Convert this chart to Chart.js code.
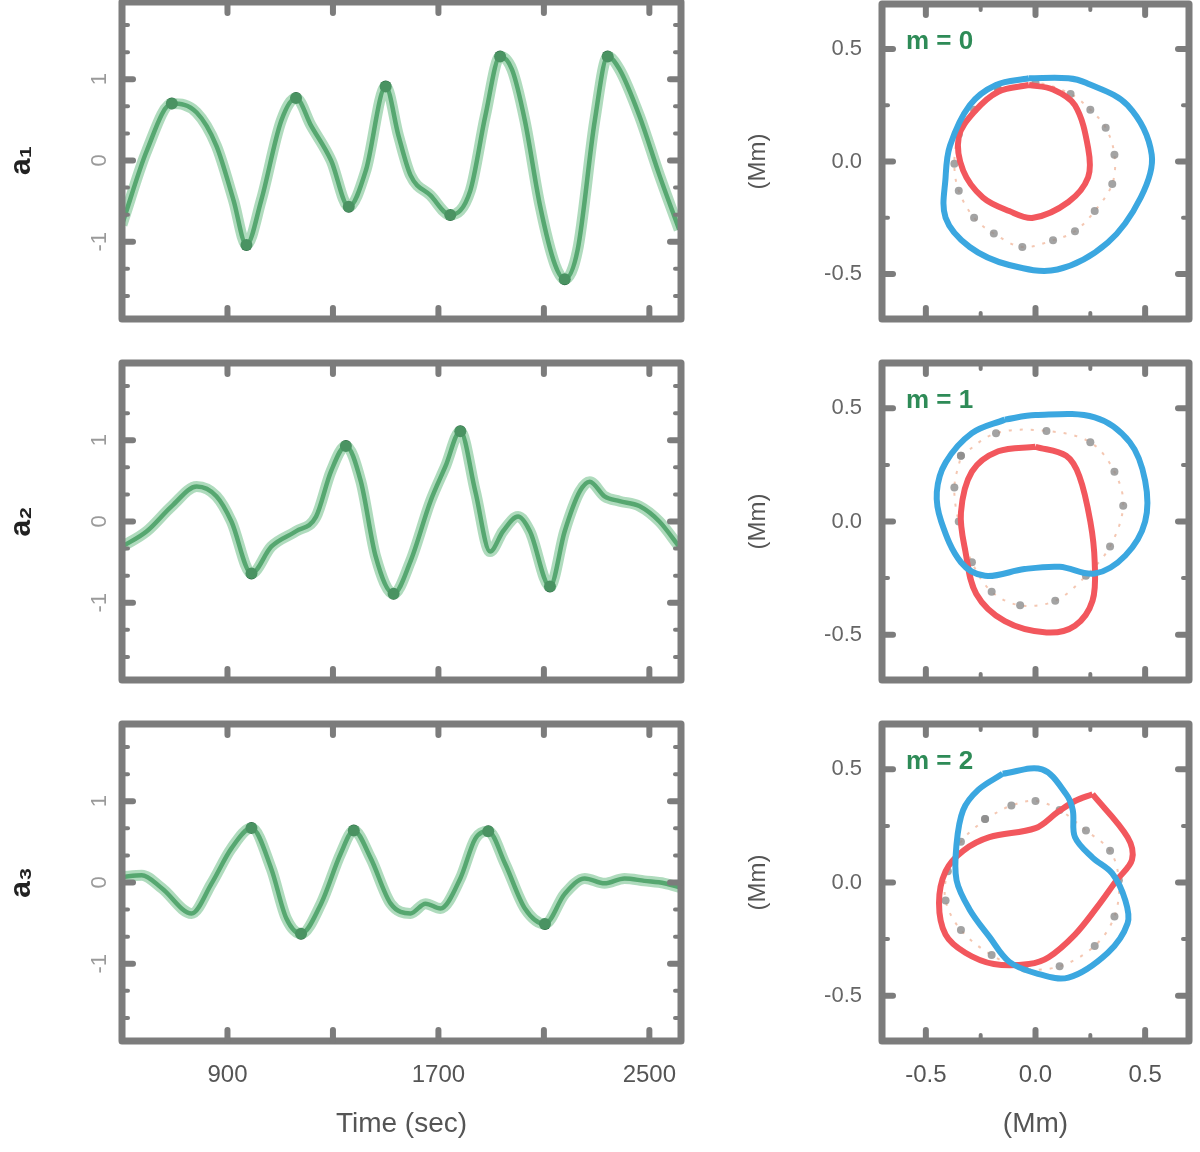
<!DOCTYPE html>
<html>
<head>
<meta charset="utf-8">
<script src="https://cdn.jsdelivr.net/npm/chart.js@4.4.0/dist/chart.umd.min.js"></script>
<style>
  html, body { margin: 0; padding: 0; background: #fff; width: 1200px; height: 1152px; overflow: hidden; position: relative; }
  .box { position: absolute; }
</style>
</head>
<body>
<script>
// 左侧三条时间序列 (时间 s, 振幅)
const timeA = [500, 594, 689, 783, 858, 923, 972, 1028, 1104, 1160, 1217, 1293, 1360, 1425, 1500, 1549, 1594, 1670, 1745, 1821, 1878, 1934, 1979, 2028, 2085, 2142, 2179, 2228, 2293, 2342, 2387, 2462, 2538, 2613];
const ampA  = [-0.79, 0.12, 0.70, 0.59, 0.18, -0.49, -1.04, -0.49, 0.49, 0.77, 0.43, 0.0, -0.57, -0.12, 0.91, 0.30, -0.18, -0.43, -0.67, -0.37, 0.55, 1.28, 1.12, 0.49, -0.55, -1.28, -1.46, -1.10, 0.49, 1.28, 1.12, 0.55, -0.18, -0.85];

const timeB = [500, 594, 689, 783, 858, 915, 991, 1066, 1160, 1236, 1293, 1349, 1406, 1462, 1530, 1594, 1670, 1727, 1783, 1840, 1896, 1945, 2002, 2047, 2123, 2179, 2236, 2274, 2330, 2387, 2462, 2538, 2613];
const ampB  = [-0.31, -0.12, 0.19, 0.43, 0.31, 0.0, -0.64, -0.31, -0.12, 0.06, 0.62, 0.93, 0.49, -0.43, -0.89, -0.49, 0.25, 0.68, 1.11, 0.37, -0.37, -0.12, 0.06, -0.12, -0.80, -0.12, 0.37, 0.49, 0.31, 0.25, 0.19, 0.0, -0.31];

const timeC = [500, 575, 651, 764, 840, 915, 991, 1066, 1123, 1179, 1255, 1330, 1379, 1443, 1519, 1594, 1651, 1708, 1783, 1840, 1889, 1953, 2028, 2104, 2179, 2255, 2330, 2406, 2481, 2557, 2625];
const ampC  = [0.07, 0.09, -0.07, -0.38, -0.01, 0.42, 0.67, 0.17, -0.44, -0.63, -0.26, 0.36, 0.64, 0.30, -0.26, -0.38, -0.26, -0.32, 0.05, 0.54, 0.63, 0.23, -0.32, -0.51, -0.14, 0.05, -0.01, 0.05, 0.02, -0.01, -0.07];

// 右侧轨迹 (Mm)
const r1RedX  = [-0.03, 0.08, 0.18, 0.24, 0.24, 0.15, -0.01, -0.12, -0.24, -0.33, -0.35, -0.28, -0.17];
const r1RedY  = [0.34, 0.32, 0.25, 0.06, -0.07, -0.18, -0.25, -0.22, -0.16, -0.04, 0.11, 0.22, 0.31];
const r1BlueX = [-0.03, 0.15, 0.23, 0.42, 0.53, 0.48, 0.33, 0.10, -0.12, -0.30, -0.41, -0.41, -0.39, -0.30, -0.18];
const r1BlueY = [0.37, 0.37, 0.35, 0.25, 0.03, -0.16, -0.36, -0.48, -0.46, -0.38, -0.25, -0.07, 0.07, 0.25, 0.34];
const r1GreyX = [-0.17, 0.0, 0.16, 0.25, 0.32, 0.36, 0.35, 0.27, 0.18, 0.08, -0.06, -0.19, -0.28, -0.35, -0.37, -0.35, -0.28];
const r1GreyY = [0.32, 0.35, 0.30, 0.23, 0.15, 0.03, -0.10, -0.22, -0.31, -0.35, -0.38, -0.32, -0.25, -0.13, -0.01, 0.12, 0.23];

const r2RedX  = [0.0, 0.14, 0.20, 0.25, 0.27, 0.26, 0.18, 0.05, -0.14, -0.27, -0.32, -0.34, -0.29, -0.17];
const r2RedY  = [0.33, 0.29, 0.20, 0.0, -0.18, -0.35, -0.46, -0.49, -0.44, -0.32, -0.13, 0.04, 0.22, 0.31];
const r2BlueX = [-0.14, 0.0, 0.27, 0.43, 0.50, 0.50, 0.41, 0.27, 0.11, -0.05, -0.23, -0.34, -0.43, -0.45, -0.41, -0.29];
const r2BlueY = [0.45, 0.47, 0.46, 0.35, 0.18, 0.0, -0.15, -0.23, -0.20, -0.21, -0.24, -0.18, 0.0, 0.13, 0.26, 0.39];
const r2GreyX = [-0.34, -0.18, 0.05, 0.25, 0.36, 0.40, 0.34, 0.23, 0.09, -0.07, -0.20, -0.29, -0.35, -0.37];
const r2GreyY = [0.29, 0.39, 0.40, 0.35, 0.22, 0.07, -0.11, -0.24, -0.35, -0.37, -0.31, -0.18, 0.0, 0.15];

const r3RedX  = [0.26, 0.42, 0.44, 0.37, 0.28, 0.18, 0.06, -0.03, -0.19, -0.32, -0.41, -0.44, -0.41, -0.33, -0.21, 0.0, 0.10, 0.18];
const r3RedY  = [0.39, 0.20, 0.10, 0.01, -0.11, -0.23, -0.33, -0.36, -0.36, -0.31, -0.23, -0.09, 0.05, 0.14, 0.20, 0.24, 0.31, 0.36];
const r3BlueX = [-0.15, 0.03, 0.14, 0.17, 0.18, 0.26, 0.35, 0.41, 0.42, 0.33, 0.15, 0.0, -0.12, -0.21, -0.30, -0.36, -0.36, -0.33, -0.26];
const r3BlueY = [0.48, 0.50, 0.39, 0.32, 0.20, 0.11, 0.04, -0.08, -0.18, -0.31, -0.42, -0.40, -0.35, -0.24, -0.12, 0.01, 0.17, 0.32, 0.41];
const r3GreyX = [-0.23, -0.11, 0.0, 0.11, 0.23, 0.34, 0.38, 0.36, 0.27, 0.11, -0.05, -0.20, -0.34, -0.41, -0.40, -0.34];
const r3GreyY = [0.28, 0.34, 0.36, 0.32, 0.23, 0.14, 0.01, -0.15, -0.28, -0.37, -0.38, -0.32, -0.21, -0.08, 0.05, 0.18];

// 刻度
const leftXTicks = [900, 1700, 2500];
const leftXLabels = ['900', '1700', '2500'];
const leftXMajor = [900, 1300, 1700, 2100, 2500];
const leftYTicks = [-1, 0, 1];
const leftYLabels = ['-1', '0', '1'];
const leftYMinor = [-1.667, -1.333, -0.667, -0.333, 0.333, 0.667, 1.333, 1.667];
const rightTicks = [-0.5, 0, 0.5];
const rightLabels = ['-0.5', '0.0', '0.5'];
const rightMinor = [-0.25, 0.25];

const panelNames = ['a\u2081', 'a\u2082', 'a\u2083'];
const panelTags = ['m = 0', 'm = 1', 'm = 2'];

Chart.defaults.font.family = '"Liberation Sans", "DejaVu Sans", sans-serif';
Chart.defaults.animation = false;

// 画粗边框和向内的刻度
const framePlugin = {
    id: 'frame',
    afterDraw(chart, args, o) {
        const { ctx, chartArea: a } = chart;
        const x = chart.scales.x, y = chart.scales.y;
        ctx.save();
        ctx.strokeStyle = '#7c7c7c';
        ctx.lineJoin = 'round';
        ctx.lineWidth = 7;
        ctx.strokeRect(a.left, a.top, a.right - a.left, a.bottom - a.top);
        ctx.lineCap = 'round';
        const seg = (x0, y0, x1, y1, w) => {
            ctx.lineWidth = w;
            ctx.beginPath(); ctx.moveTo(x0, y0); ctx.lineTo(x1, y1); ctx.stroke();
        };
        o.xMajor.forEach(v => { const p = x.getPixelForValue(v); seg(p, a.top, p, a.top + 11, 6); seg(p, a.bottom, p, a.bottom - 11, 6); });
        o.yMajor.forEach(v => { const p = y.getPixelForValue(v); seg(a.left, p, a.left + 11, p, 6); seg(a.right, p, a.right - 11, p, 6); });
        (o.xMinor || []).forEach(v => { const p = x.getPixelForValue(v); seg(p, a.top, p, a.top + 6, 4); seg(p, a.bottom, p, a.bottom - 6, 4); });
        (o.yMinor || []).forEach(v => { const p = y.getPixelForValue(v); seg(a.left, p, a.left + 6, p, 4); seg(a.right, p, a.right - 6, p, 4); });

        // 旋转的 y 刻度标签
        if (o.rotLabels) {
            ctx.fillStyle = '#9a9a9a';
            ctx.font = '22px "Liberation Sans", sans-serif';
            ctx.textAlign = 'center';
            ctx.textBaseline = 'middle';
            o.rotValues.forEach((v, i) => {
                ctx.save();
                ctx.translate(o.rotX, y.getPixelForValue(v));
                ctx.rotate(-Math.PI / 2);
                ctx.fillText(o.rotLabels[i], 0, 0);
                ctx.restore();
            });
        }
        if (o.tag) {
            ctx.fillStyle = '#2e8b57';
            ctx.font = 'bold 26px "Liberation Sans", sans-serif';
            ctx.textAlign = 'left';
            ctx.textBaseline = 'middle';
            ctx.fillText(o.tag, a.left + 24, a.top + 38);
        }
        ctx.restore();
    }
};

function addChart(left, top, width, height, config) {
    const d = document.createElement('div');
    d.className = 'box';
    d.style.left = left + 'px';
    d.style.top = top + 'px';
    const c = document.createElement('canvas');
    c.width = width; c.height = height;
    d.appendChild(c);
    document.body.appendChild(d);
    return new Chart(c, config);
}

const toPts = (xs, ys) => xs.map((v, i) => ({ x: v, y: ys[i] }));
const closed = (xs, ys) => { const p = toPts(xs, ys); p.push(p[0]); return p; };
const isPeak = (arr, i) => i > 0 && i < arr.length - 1 && Math.abs(arr[i]) > 0.5 &&
    ((arr[i] > arr[i - 1] && arr[i] > arr[i + 1]) || (arr[i] < arr[i - 1] && arr[i] < arr[i + 1]));

// 固定坐标轴尺寸，去掉标签溢出的额外边距
const fixW = w => s => { s.width = w; s.paddingTop = 0; s.paddingBottom = 0; };
const fixH = h => s => { s.height = h; s.paddingLeft = 0; s.paddingRight = 0; };

const panelTops = [2, 363, 724];
const H = 317;
const XH = 110;
const series = [[timeA, ampA], [timeB, ampB], [timeC, ampC]];
const loops = [
    [r1RedX, r1RedY, r1BlueX, r1BlueY, r1GreyX, r1GreyY],
    [r2RedX, r2RedY, r2BlueX, r2BlueY, r2GreyX, r2GreyY],
    [r3RedX, r3RedY, r3BlueX, r3BlueY, r3GreyX, r3GreyY]
];

panelTops.forEach((T, k) => {
    const padTop = Math.min(T, 10);
    const bottom = k === 2;
    const [ts, vs] = series[k];
    const pts = toPts(ts, vs);

    // 左图：时间序列
    addChart(0, T - padTop, 700, padTop + H + XH, {
        type: 'line',
        data: {
            datasets: [
                { data: pts, borderColor: 'rgba(110,190,135,0.55)', borderWidth: 11, pointRadius: 0, cubicInterpolationMode: 'monotone' },
                { data: pts, borderColor: '#3a8c56', borderWidth: 4.5, cubicInterpolationMode: 'monotone',
                  pointRadius: c => isPeak(vs, c.dataIndex) ? 6 : 0,
                  pointBackgroundColor: '#1f5f37', pointBorderWidth: 0 }
            ]
        },
        options: {
            responsive: false,
            layout: { padding: { top: padTop, right: 19, left: 0, bottom: 0 } },
            plugins: {
                legend: { display: false }, tooltip: { enabled: false },
                frame: { xMajor: leftXMajor, yMajor: leftYTicks, yMinor: leftYMinor,
                         rotLabels: leftYLabels, rotValues: leftYTicks, rotX: 100 }
            },
            scales: {
                x: {
                    type: 'linear', min: 500, max: 2620,
                    grid: { display: false }, border: { display: false },
                    afterBuildTicks: s => { s.ticks = leftXTicks.map(v => ({ value: v })); },
                    ticks: { display: bottom, font: { size: 24 }, color: '#555', padding: 12, maxRotation: 0, autoSkip: false,
                             callback: (v, i) => leftXLabels[i] },
                    title: { display: bottom, text: 'Time (sec)', font: { size: 28 }, color: '#555', padding: { top: 4, bottom: 10 } },
                    afterFit: fixH(XH)
                },
                y: {
                    min: -1.95, max: 1.95,
                    grid: { display: false }, border: { display: false },
                    afterBuildTicks: s => { s.ticks = leftYTicks.map(v => ({ value: v })); },
                    ticks: { display: false },
                    title: { display: true, text: panelNames[k], font: { size: 30, weight: 'bold' }, color: '#222' },
                    afterFit: fixW(122)
                }
            }
        },
        plugins: [framePlugin]
    });

    // 右图：轨迹
    const L = loops[k];
    addChart(740, T - padTop, 460, padTop + H + XH, {
        type: 'scatter',
        data: {
            datasets: [
                { data: closed(L[2], L[3]), showLine: true, borderColor: '#3ba7e0', borderWidth: 6, pointRadius: 0, tension: 0.35 },
                { data: closed(L[0], L[1]), showLine: true, borderColor: '#f2575d', borderWidth: 6, pointRadius: 0, tension: 0.35 },
                { data: closed(L[4], L[5]), showLine: true, borderColor: 'rgba(240,175,145,0.7)', borderWidth: 2, borderDash: [3, 8],
                  tension: 0.35, pointRadius: 4, pointBackgroundColor: 'rgba(140,140,140,0.8)', pointBorderWidth: 0 }
            ]
        },
        options: {
            responsive: false,
            layout: { padding: { top: padTop, right: 11, left: 0, bottom: 0 } },
            plugins: {
                legend: { display: false }, tooltip: { enabled: false },
                frame: { xMajor: rightTicks, yMajor: rightTicks, xMinor: rightMinor, yMinor: rightMinor, tag: panelTags[k] }
            },
            scales: {
                x: {
                    type: 'linear', min: -0.7, max: 0.7,
                    grid: { display: false }, border: { display: false },
                    afterBuildTicks: s => { s.ticks = rightTicks.map(v => ({ value: v })); },
                    ticks: { display: bottom, font: { size: 24 }, color: '#555', padding: 12, maxRotation: 0, autoSkip: false,
                             callback: (v, i) => rightLabels[i] },
                    title: { display: bottom, text: '(Mm)', font: { size: 28 }, color: '#555', padding: { top: 4, bottom: 10 } },
                    afterFit: fixH(XH)
                },
                y: {
                    type: 'linear', min: -0.7, max: 0.7,
                    grid: { display: false }, border: { display: false },
                    afterBuildTicks: s => { s.ticks = rightTicks.map(v => ({ value: v })); },
                    ticks: { font: { size: 22 }, color: '#666', padding: 12, callback: (v, i) => rightLabels[i] },
                    title: { display: true, text: '(Mm)', font: { size: 24 }, color: '#555' },
                    afterFit: fixW(142)
                }
            }
        },
        plugins: [framePlugin]
    });
});
</script>
</body>
</html>
